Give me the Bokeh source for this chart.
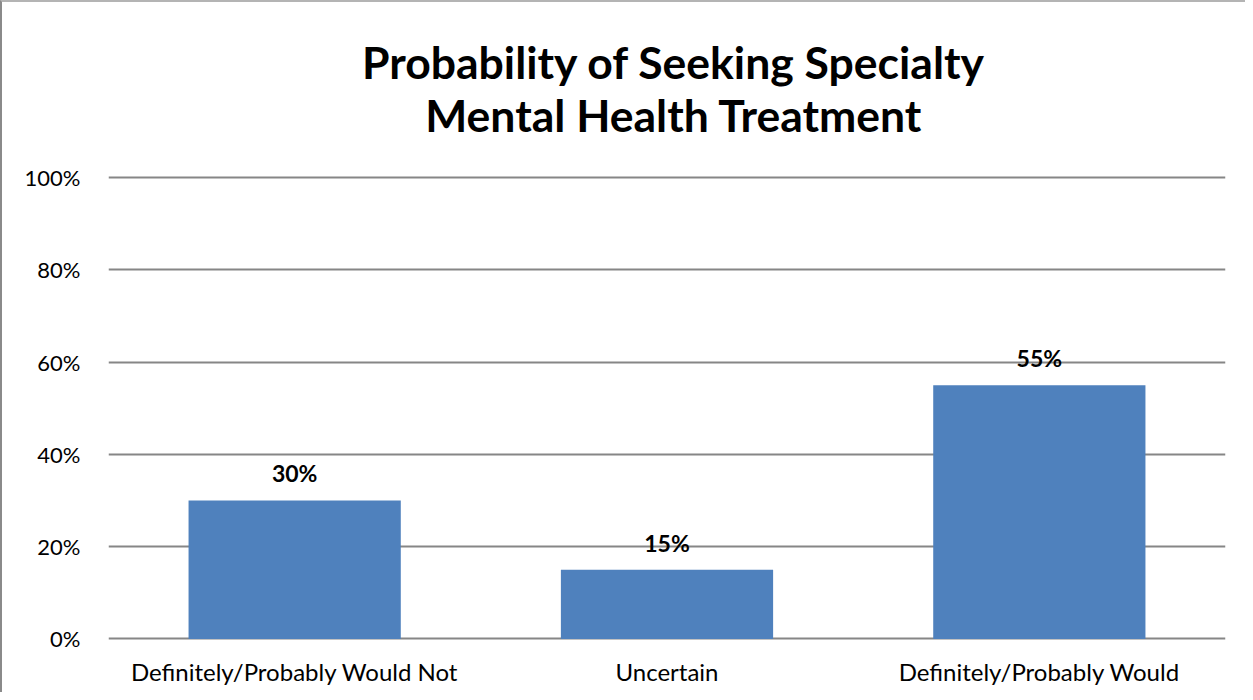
from bokeh.plotting import figure
from bokeh.models import ColumnDataSource, LabelSet, Label, PrintfTickFormatter, FixedTicker, Range1d
from bokeh.core.properties import value
from bokeh.embed import file_html
from bokeh.resources import INLINE

categories = ["Definitely/Probably Would Not", "Uncertain", "Definitely/Probably Would"]
values = [30, 15, 55]
value_labels = ["30%", "15%", "55%"]
title_lines = ["Probability of Seeking Specialty", "Mental Health Treatment"]
y_ticks = [0, 20, 40, 60, 80, 100]

FONT = "Lato"
GRID = "#868686"

src = ColumnDataSource(dict(cat=categories, val=values, lab=value_labels))

p = figure(x_range=categories, y_range=Range1d(-1, 136), width=1245, height=692,
           output_backend="svg", toolbar_location=None,
           min_border_left=106, min_border_right=22, min_border_top=9, min_border_bottom=51)
p.styles = {"border-top": "2px solid #b4b4b4", "border-left": "2px solid #8a8a8a"}
p.outline_line_color = None
p.background_fill_color = "white"
p.border_fill_color = "white"

p.vbar(x="cat", top="val", width=0.57, source=src, color="#4F81BD", line_color=None)

p.xgrid.grid_line_color = None
p.ygrid.grid_line_color = GRID
p.ygrid.grid_line_width = 2
p.ygrid.ticker = FixedTicker(ticks=y_ticks)
p.ygrid.level = "underlay"

p.yaxis.ticker = FixedTicker(ticks=y_ticks)
p.yaxis.formatter = PrintfTickFormatter(format="%d%%")
p.yaxis.axis_line_color = None
p.yaxis.major_tick_line_color = None
p.yaxis.minor_tick_line_color = None
p.yaxis.major_label_standoff = 22
p.yaxis.major_label_text_font = FONT
p.yaxis.major_label_text_font_size = "22px"
p.yaxis.major_label_text_color = "black"

p.xaxis.axis_line_color = None
p.xaxis.major_tick_line_color = None
p.xaxis.minor_tick_line_color = None
p.xaxis.major_label_standoff = 7
p.xaxis.major_label_text_font = FONT
p.xaxis.major_label_text_font_size = "24px"
p.xaxis.major_label_text_color = "black"

labels = LabelSet(x="cat", y="val", text="lab", source=src, y_offset=18,
                  text_align="center", text_baseline="alphabetic",
                  text_font=value(FONT), text_font_style="bold", text_font_size=value("23px"),
                  text_color="black")
p.add_layout(labels)

for line, off in zip(title_lines, [116, 63]):
    p.add_layout(Label(x=1.5, y=100, x_units="data", text=line, y_offset=off, x_offset=7,
                       text_align="center", text_baseline="alphabetic",
                       text_font=FONT, text_font_style="bold", text_font_size="44.5px",
                       text_color="black"))

open("out.html", "w").write(file_html(p, INLINE))
